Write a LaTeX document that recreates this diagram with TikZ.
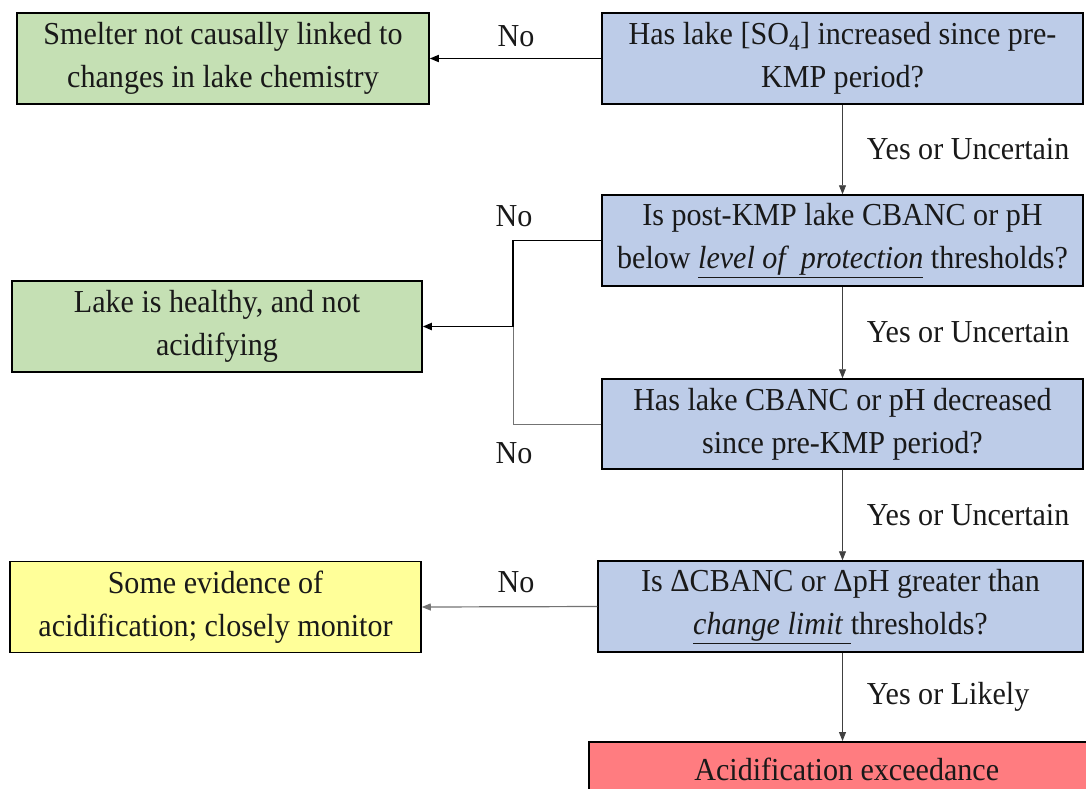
\documentclass[tikz,border=0pt]{standalone}
\usepackage{fontspec}
\setmainfont{Liberation Serif}[FakeStretch=0.94]
\usepackage{tikz}
\usetikzlibrary{arrows.meta}

\begin{document}
\begin{tikzpicture}[x=1pt, y=-1pt,
        every node/.style={font=\fontsize{32}{43}\selectfont, text=black!90},
        question/.style={draw, line width=1.5pt, fill=qblue, align=center, inner sep=0pt, minimum height=91pt},
        outcome/.style={draw, line width=1.5pt, align=center, inner sep=0pt, minimum height=91pt},
        flow/.style={line width=0.9pt, black!75, -{Triangle[length=9pt,width=7pt]}},
        lbl/.style={inner sep=0pt}]
        \definecolor{qblue}{RGB}{189,204,232}
        \definecolor{okgreen}{RGB}{197,224,180}
        \definecolor{warnyellow}{RGB}{255,255,153}
        \definecolor{badred}{RGB}{255,124,128}
        \useasboundingbox (0,0) rectangle (1086,788);

        \node[question, minimum width=481pt] (q1) at (842.5, 58.5) {Has lake [SO\textsubscript{4}] increased since pre-\\KMP period?};
        \node[question, minimum width=481pt] (q2) at (842.5, 240.5) {Is post-KMP lake CBANC or pH\\below \underline{\textit{level of\ \ protection}} thresholds?};
        \node[question, minimum width=481pt, minimum height=90pt] (q3) at (842.5, 424) {Has lake CBANC or pH decreased\\since pre-KMP period?};
        \node[question, minimum width=485pt] (q4) at (840.5, 606.5) {Is ΔCBANC or ΔpH greater than\\\underline{\textit{change limit\ }}thresholds?};

        \node[outcome, fill=okgreen, minimum width=412pt] (smelter) at (223, 58.5) {Smelter not causally linked to\\changes in lake chemistry};
        \node[outcome, fill=okgreen, minimum width=410pt] (healthy) at (217, 326.5) {Lake is healthy, and not\\acidifying};
        \node[outcome, fill=warnyellow, minimum width=411pt] (monitor) at (215.5, 607) {Some evidence of\\acidification; closely monitor};
        \node[outcome, fill=badred, minimum width=516pt, minimum height=56pt, anchor=north west] (exceed) at (588, 741) {Acidification exceedance};

        \coordinate (join) at (513, 326.5);

        % "No" branches
        \draw[flow, line width=1.6pt, black] (q1.west) -- (smelter.east);
        \draw[line width=1.6pt, black] (q2.west) -| (join);
        \draw[flow, line width=1.9pt, black] (join) -- (healthy.east);
        \draw[line width=0.9pt, black!55] (q3.west) -| (join);
        \draw[flow, line width=1.2pt, black!55] (q4.west) -- (monitor.east);

        \node[lbl] (no1) at (516, 36) {No};
        \node[lbl] (no2) at (514, 216) {No};
        \node[lbl] (no3) at (514, 453) {No};
        \node[lbl] (no4) at (516, 582) {No};

        % "Yes" branches
        \draw[flow] (q1.south) -- node[lbl, right, xshift=24pt] (yes1) {Yes or Uncertain} (q2.north);
        \draw[flow] (q2.south) -- node[lbl, right, xshift=24pt] (yes2) {Yes or Uncertain} (q3.north);
        \draw[flow] (q3.south) -- node[lbl, right, xshift=24pt] (yes3) {Yes or Uncertain} (q3.south |- q4.north);
        \draw[flow] (q3.south |- q4.south) -- node[lbl, right, xshift=24pt] (yes4) {Yes or Likely} (q3.south |- exceed.north);
    \end{tikzpicture}
\end{document}
